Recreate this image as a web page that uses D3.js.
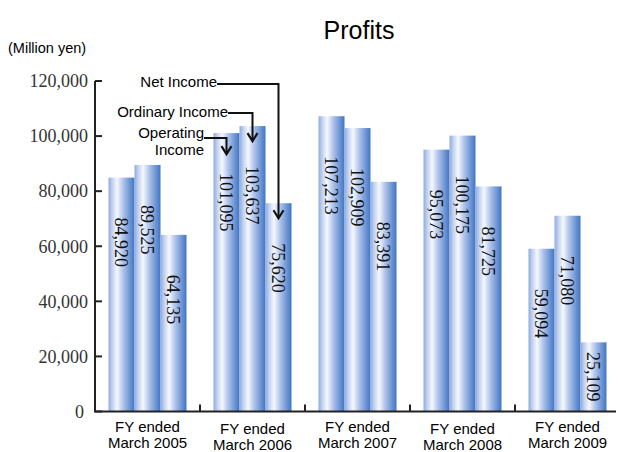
<!DOCTYPE html>
<html>
<head>
<meta charset="utf-8">
<script src="https://cdn.jsdelivr.net/npm/d3@7"></script>
<style>
  html, body { margin: 0; padding: 0; background: #fff; }
  svg { display: block; }
</style>
</head>
<body>
<svg id="chart" width="619" height="452"></svg>
<script>
// ---- data ----
const categories = ["March 2005", "March 2006", "March 2007", "March 2008", "March 2009"];
const seriesNames = ["Operating Income", "Ordinary Income", "Net Income"];
const operatingIncome = [84920, 101095, 107213, 95073, 59094];
const ordinaryIncome  = [89525, 103637, 102909, 100175, 71080];
const netIncome       = [64135, 75620, 83391, 81725, 25109];
const valueLabels = [
  ["84,920", "89,525", "64,135"],
  ["101,095", "103,637", "75,620"],
  ["107,213", "102,909", "83,391"],
  ["95,073", "100,175", "81,725"],
  ["59,094", "71,080", "25,109"]
];
const yTicks = [0, 20000, 40000, 60000, 80000, 100000, 120000];

const series = [operatingIncome, ordinaryIncome, netIncome];

// ---- layout ----
const svg = d3.select("#chart");
const x0Left = 95, x0Right = 620, yTop = 81, yBottom = 411.5;

const x = d3.scaleBand().domain(categories).range([x0Left, x0Right]).paddingInner(0).paddingOuter(0);
const groupW = 78;
const xs = d3.scaleBand().domain(seriesNames).range([0, groupW]).padding(0);
const y = d3.scaleLinear().domain([0, 120000]).range([yBottom, yTop]);

// gradient
const defs = svg.append("defs");
const grad = defs.append("linearGradient").attr("id", "barGrad")
  .attr("x1", "0%").attr("x2", "100%").attr("y1", "0%").attr("y2", "0%");
[[0, "#8eabdf"], [0.15, "#c3d3f0"], [0.33, "#f6f8fd"], [0.55, "#b2c6eb"], [0.8, "#7398d5"], [1, "#3f76c6"]]
  .forEach(([o, c]) => grad.append("stop").attr("offset", o).attr("stop-color", c));

// title
svg.append("text").attr("x", 359).attr("y", 39).attr("text-anchor", "middle")
  .attr("font-family", "Liberation Sans, Arial, sans-serif").attr("font-size", 25)
  .attr("fill", "#000").text("Profits");
svg.append("text").attr("x", 8).attr("y", 53)
  .attr("font-family", "Liberation Sans, Arial, sans-serif").attr("font-size", 14.5)
  .attr("fill", "#000").text("(Million yen)");

// bars
const rows = [];
categories.forEach((c, i) => {
  seriesNames.forEach((s, j) => {
    rows.push({cat: c, ser: s, value: series[j][i], label: valueLabels[i][j], gi: i, si: j});
  });
});

const barX = d => x(d.cat) + (x.bandwidth() - groupW) / 2 + xs(d.ser);

svg.append("g").selectAll("rect").data(rows).join("rect")
  .attr("x", barX)
  .attr("y", d => y(d.value))
  .attr("width", xs.bandwidth())
  .attr("height", d => y(0) - y(d.value))
  .attr("fill", "url(#barGrad)");

// value labels (rotated)
const labelLen = 54;
svg.append("g").selectAll("text").data(rows).join("text")
  .attr("transform", d => {
    const h = y(0) - y(d.value);
    const off = Math.min(40, (h - labelLen) / 2 + 2);
    const cx = barX(d) + xs.bandwidth() / 2;
    return `translate(${cx},${y(d.value) + off}) rotate(90)`;
  })
  .attr("dy", "0.34em")
  .attr("font-family", "Liberation Serif, Times New Roman, serif")
  .attr("font-size", 18)
  .attr("fill", "#111")
  .text(d => d.label);

// y axis
const axisColor = "#222";
svg.append("line").attr("x1", x0Left).attr("x2", x0Left).attr("y1", yTop).attr("y2", yBottom)
  .attr("stroke", axisColor).attr("stroke-width", 2);
const yt = svg.append("g").selectAll("g").data(yTicks).join("g");
yt.append("line").attr("x1", x0Left).attr("x2", x0Left + 7)
  .attr("y1", d => y(d)).attr("y2", d => y(d)).attr("stroke", axisColor).attr("stroke-width", 2);
yt.append("text").attr("x", d => d === 0 ? 84 : 88).attr("y", d => y(d)).attr("dy", "0.35em")
  .attr("text-anchor", "end")
  .attr("font-family", "Liberation Serif, Times New Roman, serif").attr("font-size", 18)
  .attr("fill", "#333")
  .text(d => d3.format(",")(d));

// x axis
svg.append("line").attr("x1", x0Left - 1).attr("x2", 616).attr("y1", yBottom).attr("y2", yBottom)
  .attr("stroke", axisColor).attr("stroke-width", 2);
svg.append("g").selectAll("line").data(categories.slice(1)).join("line")
  .attr("x1", d => x(d)).attr("x2", d => x(d))
  .attr("y1", yBottom).attr("y2", yBottom - 7)
  .attr("stroke", axisColor).attr("stroke-width", 2);

const xl = svg.append("g").selectAll("text").data(categories).join("text")
  .attr("text-anchor", "middle")
  .attr("font-family", "Liberation Sans, Arial, sans-serif").attr("font-size", 15)
  .attr("fill", "#000")
  .attr("transform", (d, i) => `translate(${x(d) + x.bandwidth() / 2},${432 + (i % 2) * 2})`);
xl.append("tspan").attr("x", 0).attr("y", 0).text("FY ended");
xl.append("tspan").attr("x", 0).attr("y", 15.5).text(d => d);

// annotations (pointing at second group)
const annCat = categories[1];
const annFont = "Liberation Sans, Arial, sans-serif";
const annSize = 15;
const annGroup = svg.append("g");
function arrow(si, textEndX, lineY, tipOffset) {
  const d = {cat: annCat, ser: seriesNames[si]};
  const cx = barX(d) + xs.bandwidth() / 2;
  const tipY = y(series[si][1]) + tipOffset;
  annGroup.append("path")
    .attr("d", `M${textEndX},${lineY}H${cx}V${tipY}`)
    .attr("fill", "none").attr("stroke", "#111").attr("stroke-width", 2);
  annGroup.append("path")
    .attr("d", `M${cx - 5},${tipY - 8}L${cx},${tipY}L${cx + 5},${tipY - 8}`)
    .attr("fill", "none").attr("stroke", "#111").attr("stroke-width", 2.2);
}
annGroup.append("text").attr("x", 217).attr("y", 87).attr("text-anchor", "end")
  .attr("font-family", annFont).attr("font-size", annSize).text("Net Income");
arrow(2, 217, 84, 15);
annGroup.append("text").attr("x", 228).attr("y", 117).attr("text-anchor", "end")
  .attr("font-family", annFont).attr("font-size", annSize).text("Ordinary Income");
arrow(1, 228, 113, 15);
annGroup.append("text").attr("x", 204).attr("y", 138).attr("text-anchor", "end")
  .attr("font-family", annFont).attr("font-size", annSize).text("Operating");
annGroup.append("text").attr("x", 204).attr("y", 155).attr("text-anchor", "end")
  .attr("font-family", annFont).attr("font-size", annSize).text("Income");
arrow(0, 204, 138, 21);
</script>
</body>
</html>
